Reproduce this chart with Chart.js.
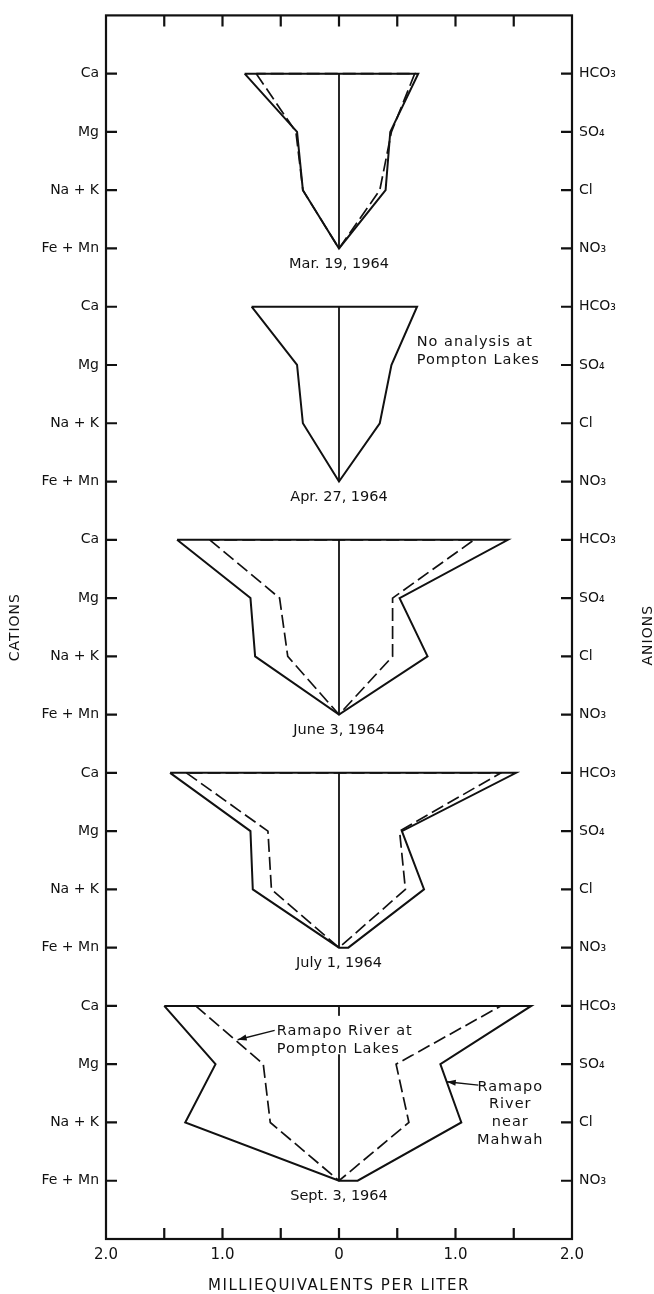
<!DOCTYPE html>
<html>
<head>
<meta charset="utf-8">
<script src="https://cdn.jsdelivr.net/npm/chart.js@4.4.1/dist/chart.umd.min.js"></script>
<style>
  html, body { margin: 0; padding: 0; background: #fff; }
  canvas { display: block; }
</style>
</head>
<body>
<canvas id="stiffChart" width="654" height="1294"></canvas>
<script>
// sampling dates, one panel each
const sampleDates = ['Mar. 19, 1964', 'Apr. 27, 1964', 'June 3, 1964', 'July 1, 1964', 'Sept. 3, 1964'];
const cationNames = ['Ca', 'Mg', 'Na + K', 'Fe + Mn'];
const anionNames = ['HCO\u2083', 'SO\u2084', 'Cl', 'NO\u2083'];
const xTickLabels = ['2.0', '1.0', '0', '1.0', '2.0'];

// milliequivalents per liter, order Ca/Mg/Na+K/Fe+Mn and HCO3/SO4/Cl/NO3
// Ramapo River near Mahwah (solid)
const mahwahCations = [
  [0.81, 0.36, 0.31, 0],
  [0.75, 0.36, 0.31, 0],
  [1.39, 0.76, 0.72, 0],
  [1.45, 0.76, 0.74, 0],
  [1.50, 1.06, 1.32, 0]
];
const mahwahAnions = [
  [0.68, 0.44, 0.40, 0],
  [0.67, 0.45, 0.35, 0],
  [1.45, 0.52, 0.76, 0],
  [1.52, 0.54, 0.73, 0.08],
  [1.65, 0.87, 1.05, 0.16]
];
// Ramapo River at Pompton Lakes (dashed), no analysis in April
const pomptonCations = [
  [0.71, 0.37, 0.31, 0],
  null,
  [1.11, 0.51, 0.44, 0],
  [1.31, 0.61, 0.58, 0],
  [1.23, 0.65, 0.59, 0]
];
const pomptonAnions = [
  [0.65, 0.45, 0.35, 0],
  null,
  [1.16, 0.46, 0.46, 0],
  [1.39, 0.52, 0.57, 0],
  [1.39, 0.49, 0.60, 0]
];

const noteText = ['No analysis at', 'Pompton Lakes'];
const pomptonLabel = ['Ramapo River at', 'Pompton Lakes'];
const mahwahLabel = ['Ramapo', 'River', 'near', 'Mahwah'];

function polygon(cat, an, panel) {
  const base = panel * 4 + 1;
  const pts = [];
  for (let i = 0; i < 4; i++) pts.push({ x: -cat[i], y: base + i });
  for (let i = 3; i >= 0; i--) pts.push({ x: an[i], y: base + i });
  pts.push({ x: -cat[0], y: base });
  return pts;
}

const datasets = [];
sampleDates.forEach((d, p) => {
  const base = p * 4 + 1;
  datasets.push({ label: 'axis ' + d, data: [{ x: 0, y: base }, { x: 0, y: base + 3 }], borderWidth: 1.8 });
  datasets.push({ label: 'Mahwah ' + d, data: polygon(mahwahCations[p], mahwahAnions[p], p), borderWidth: 2 });
  if (pomptonCations[p]) {
    datasets.push({ label: 'Pompton ' + d, data: polygon(pomptonCations[p], pomptonAnions[p], p), borderWidth: 1.7, borderDash: [13, 5] });
  }
});
datasets.forEach(ds => {
  ds.showLine = true;
  ds.pointRadius = 0;
  ds.borderColor = '#111';
  ds.fill = false;
  ds.tension = 0;
});

function arrow(ctx, x1, y1, x2, y2) {
  ctx.beginPath();
  ctx.moveTo(x1, y1);
  ctx.lineTo(x2, y2);
  ctx.stroke();
  const ang = Math.atan2(y2 - y1, x2 - x1);
  ctx.beginPath();
  ctx.moveTo(x2, y2);
  ctx.lineTo(x2 - 9 * Math.cos(ang) + 3 * Math.sin(ang), y2 - 9 * Math.sin(ang) - 3 * Math.cos(ang));
  ctx.lineTo(x2 - 9 * Math.cos(ang) - 3 * Math.sin(ang), y2 - 9 * Math.sin(ang) + 3 * Math.cos(ang));
  ctx.closePath();
  ctx.fill();
}

const framePlugin = {
  id: 'frame',
  afterDatasetsDraw(chart) {
    const { ctx, chartArea: a } = chart;
    const x = chart.scales.x, y = chart.scales.y;
    ctx.save();
    ctx.strokeStyle = '#111';
    ctx.fillStyle = '#111';
    ctx.lineWidth = 2.2;
    ctx.strokeRect(a.left, a.top, a.right - a.left, a.bottom - a.top);

    // inward tick marks
    ctx.beginPath();
    x.ticks.forEach(t => {
      if (t.value <= -2 || t.value >= 2) return;
      const px = x.getPixelForValue(t.value);
      ctx.moveTo(px, a.top); ctx.lineTo(px, a.top + 11);
      ctx.moveTo(px, a.bottom); ctx.lineTo(px, a.bottom - 11);
    });
    y.ticks.forEach(t => {
      if (t.value < 1 || t.value > 20) return;
      const py = y.getPixelForValue(t.value);
      ctx.moveTo(a.left, py); ctx.lineTo(a.left + 11, py);
      ctx.moveTo(a.right, py); ctx.lineTo(a.right - 11, py);
    });
    ctx.stroke();

    // dates under each diagram
    ctx.font = "14.5px 'DejaVu Sans'";
    ctx.textAlign = 'center';
    ctx.textBaseline = 'middle';
    sampleDates.forEach((d, p) => {
      ctx.fillText(d, x.getPixelForValue(0), y.getPixelForValue(p * 4 + 4) + 16);
    });

    ctx.font = "14.5px 'DejaVu Sans'";
    ctx.letterSpacing = '1px';
    ctx.textAlign = 'left';
    noteText.forEach((s, i) => {
      ctx.fillText(s, x.getPixelForValue(0.667), y.getPixelForValue(5.61 + i * 0.31));
    });

    // label for Pompton Lakes line, white box over the center line
    const lx = x.getPixelForValue(-0.535);
    ctx.fillStyle = '#fff';
    ctx.fillRect(lx - 4, y.getPixelForValue(17.17), 144, y.getPixelForValue(17.83) - y.getPixelForValue(17.17));
    ctx.fillStyle = '#111';
    pomptonLabel.forEach((s, i) => {
      ctx.fillText(s, lx, y.getPixelForValue(17.44 + i * 0.31));
    });
    ctx.lineWidth = 1.4;
    arrow(ctx, lx - 2, y.getPixelForValue(17.42), x.getPixelForValue(-0.87), y.getPixelForValue(17.58));

    ctx.textAlign = 'center';
    mahwahLabel.forEach((s, i) => {
      ctx.fillText(s, x.getPixelForValue(1.47), y.getPixelForValue(18.39 + i * 0.305));
    });
    arrow(ctx, x.getPixelForValue(1.196), y.getPixelForValue(18.36), x.getPixelForValue(0.925), y.getPixelForValue(18.3));

    // axis titles
    ctx.font = "14px 'DejaVu Sans'";
    ctx.letterSpacing = '1px';
    ctx.save();
    ctx.translate(15, (a.top + a.bottom) / 2);
    ctx.rotate(-Math.PI / 2);
    ctx.fillText('CATIONS', 0, 0);
    ctx.restore();
    ctx.save();
    ctx.translate(648, (a.top + a.bottom) / 2 + 8);
    ctx.rotate(-Math.PI / 2);
    ctx.fillText('ANIONS', 0, 0);
    ctx.restore();
    ctx.font = "15px 'DejaVu Sans'";
    ctx.letterSpacing = '1.5px';
    ctx.fillText('MILLIEQUIVALENTS PER LITER', x.getPixelForValue(0), 1286);
    ctx.restore();
  }
};

Chart.defaults.font.family = "'DejaVu Sans', sans-serif";
Chart.defaults.color = '#111';

new Chart(document.getElementById('stiffChart'), {
  type: 'scatter',
  data: { datasets: datasets },
  options: {
    responsive: false,
    animation: false,
    events: [],
    layout: { padding: { top: 12, left: 0, right: 0, bottom: 0 } },
    plugins: { legend: { display: false }, tooltip: { enabled: false } },
    scales: {
      x: {
        type: 'linear',
        min: -2, max: 2,
        grid: { display: false, drawTicks: false },
        border: { display: false },
        ticks: {
          stepSize: 0.5, autoSkip: false, maxRotation: 0, padding: 7,
          font: { size: 15 },
          callback: v => Number.isInteger(v) ? xTickLabels[v + 2] : ''
        },
        afterFit: s => { s.height = 55; }
      },
      y: {
        type: 'linear',
        position: 'left',
        reverse: true,
        min: 0, max: 21,
        grid: { display: false, drawTicks: false },
        border: { display: false },
        ticks: {
          stepSize: 1, autoSkip: false, padding: 7,
          font: { size: 14 },
          callback: v => (v >= 1 && v <= 20) ? cationNames[(v - 1) % 4] : ''
        },
        afterFit: s => { s.width = 106; }
      },
      y2: {
        type: 'linear',
        position: 'right',
        reverse: true,
        min: 0, max: 21,
        grid: { display: false, drawTicks: false },
        border: { display: false },
        ticks: {
          stepSize: 1, autoSkip: false, padding: 7,
          font: { size: 14 },
          callback: v => (v >= 1 && v <= 20) ? anionNames[(v - 1) % 4] : ''
        },
        afterFit: s => { s.width = 82; }
      }
    }
  },
  plugins: [framePlugin]
});
</script>
</body>
</html>
